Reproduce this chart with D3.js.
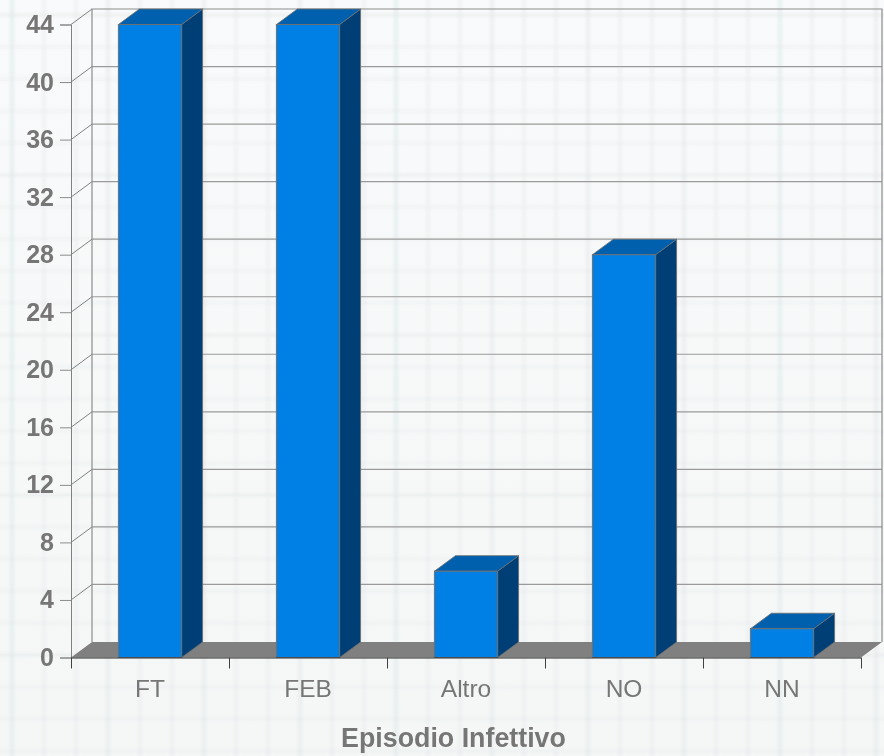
<!DOCTYPE html>
<html>
<head>
<meta charset="utf-8">
<script src="https://cdn.jsdelivr.net/npm/d3@7/dist/d3.min.js"></script>
<style>
html,body{margin:0;padding:0;background:#f7f9fa}
svg{display:block}
text{font-family:"Liberation Sans",Arial,sans-serif;fill:#767676}
</style>
</head>
<body>
<svg id="chart" width="884" height="756"></svg>
<script>
const categories = ["FT", "FEB", "Altro", "NO", "NN"];
const values = [44, 44, 6, 28, 2];
const yTicks = [0, 4, 8, 12, 16, 20, 24, 28, 32, 36, 40, 44];
const xTitle = "Episodio Infettivo";

const width = 884, height = 756;
const depthX = 21, depthY = -15.5;
const left = 71, right = 861, floorY = 657.5, topY = 24.5;

const svg = d3.select("#chart");
const defs = svg.append("defs");

// Woven paper backdrop: soft plaid stripes repeating every 32px
const fade = defs.append("linearGradient").attr("id", "paperShade")
  .attr("x1", 0).attr("y1", 0).attr("x2", 0).attr("y2", 1);
fade.append("stop").attr("offset", 0).attr("stop-color", "#f9fafb");
fade.append("stop").attr("offset", 1).attr("stop-color", "#f5f7f7");
const soft = defs.append("filter").attr("id", "soft")
  .attr("x", "-5%").attr("y", "-5%").attr("width", "110%").attr("height", "110%");
soft.append("feGaussianBlur").attr("stdDeviation", 1.4);

svg.append("rect").attr("width", width).attr("height", height).attr("fill", "url(#paperShade)");

const plaid = svg.append("g").attr("filter", "url(#soft)");
plaid.selectAll("rect.v").data(d3.range(12, width + 32, 32)).join("rect")
  .attr("class", "v").attr("x", d => d - 2).attr("y", -5)
  .attr("width", 4).attr("height", height + 10)
  .attr("fill", (d, i) => i % 12 === 0 ? "#d8e6e6" : "#e2e5e7")
  .attr("opacity", (d, i) => i % 3 === 0 ? 0.5 : 0.36);
plaid.selectAll("rect.h").data(d3.range(15, height + 32, 32)).join("rect")
  .attr("class", "h").attr("x", -5).attr("y", d => d - 1.5)
  .attr("width", width + 10).attr("height", 3)
  .attr("fill", "#e3e7e8")
  .attr("opacity", (d, i) => i % 5 === 0 ? 0.55 : 0.32);

const x = d3.scaleBand().domain(categories).range([left, right]);
const y = d3.scaleLinear().domain([0, 44]).range([floorY, topY]);
const backTop = y(44) + depthY;
const backBottom = floorY + depthY;
const barWidth = x.bandwidth() * 0.4;

// Back wall grid lines and the receding connectors to the left axis
const grid = svg.append("g");
grid.selectAll("line.back").data(yTicks.filter(t => t > 0 && t < 44)).join("line")
  .attr("class", "back")
  .attr("x1", left + depthX).attr("x2", right + depthX)
  .attr("y1", d => y(d) + depthY).attr("y2", d => y(d) + depthY)
  .attr("stroke", "#9a9a9a").attr("stroke-width", 1.2);
grid.selectAll("line.side").data(yTicks.filter(t => t > 0)).join("line")
  .attr("class", "side")
  .attr("x1", left).attr("x2", left + depthX)
  .attr("y1", d => y(d)).attr("y2", d => y(d) + depthY)
  .attr("stroke", "#808080").attr("stroke-width", 1);

// Wall outline
grid.append("path")
  .attr("d", `M${left + depthX},${backBottom}V${backTop}H${right + depthX}V${backBottom}`)
  .attr("fill", "none").attr("stroke", "#8c8c8c").attr("stroke-width", 1.2);

// Floor
svg.append("path")
  .attr("d", d3.line()([[left, floorY], [right, floorY], [right + depthX, backBottom], [left + depthX, backBottom]]) + "Z")
  .attr("fill", "#808080");

// Bars: side face, top face, then front face
const bars = svg.append("g").selectAll("g").data(categories.map((c, i) => ({c, v: values[i]}))).join("g");
const bx0 = d => x(d.c) + (x.bandwidth() - barWidth) / 2;
const bx1 = d => bx0(d) + barWidth;
const barStroke = "#6f6f6f";
bars.append("path")
  .attr("d", d => d3.line()([[bx1(d), y(d.v)], [bx1(d) + depthX, y(d.v) + depthY], [bx1(d) + depthX, floorY + depthY], [bx1(d), floorY]]) + "Z")
  .attr("fill", "#003f75").attr("stroke", barStroke).attr("stroke-width", 0.8);
bars.append("path")
  .attr("d", d => d3.line()([[bx0(d), y(d.v)], [bx0(d) + depthX, y(d.v) + depthY], [bx1(d) + depthX, y(d.v) + depthY], [bx1(d), y(d.v)]]) + "Z")
  .attr("fill", "#0060ae").attr("stroke", barStroke).attr("stroke-width", 0.8);
bars.append("rect")
  .attr("x", bx0).attr("y", d => y(d.v))
  .attr("width", barWidth).attr("height", d => floorY - y(d.v))
  .attr("fill", "#0080e4").attr("stroke", barStroke).attr("stroke-width", 1);

// Value axis
const yAxis = d3.axisLeft(y).tickValues(yTicks).tickSize(11).tickPadding(6).tickFormat(d3.format("d"));
const yG = svg.append("g").attr("transform", `translate(${left},0)`).call(yAxis);
yG.select(".domain").attr("stroke", "#808080").attr("stroke-width", 1);
yG.selectAll(".tick line").attr("stroke", "#8c8c8c");
yG.selectAll(".tick text")
  .style("font-size", "25px").style("font-weight", "bold")
  .style("font-family", '"Liberation Sans",Arial,sans-serif').attr("fill", "#767676");

// Category axis: ticks sit on band edges, labels centred in the bands
const edges = d3.scaleLinear().domain([0, categories.length]).range([left, right]);
const xAxis = d3.axisBottom(edges).tickValues(d3.range(categories.length + 1)).tickSize(11).tickFormat("");
const xG = svg.append("g").attr("transform", `translate(0,${floorY})`).call(xAxis);
xG.select(".domain").attr("d", `M${left},0.5H${right}`).attr("stroke", "#2a2a2a").attr("stroke-width", 1.2);
xG.selectAll(".tick line").attr("stroke", "#404040");

svg.append("g").selectAll("text").data(categories).join("text")
  .attr("x", d => x(d) + x.bandwidth() / 2).attr("y", 696.5)
  .attr("text-anchor", "middle").style("font-size", "24.5px").text(d => d);

svg.append("text").attr("x", 453.5).attr("y", 747)
  .attr("text-anchor", "middle").style("font-size", "26.8px").style("font-weight", "bold").text(xTitle);
</script>
</body>
</html>
